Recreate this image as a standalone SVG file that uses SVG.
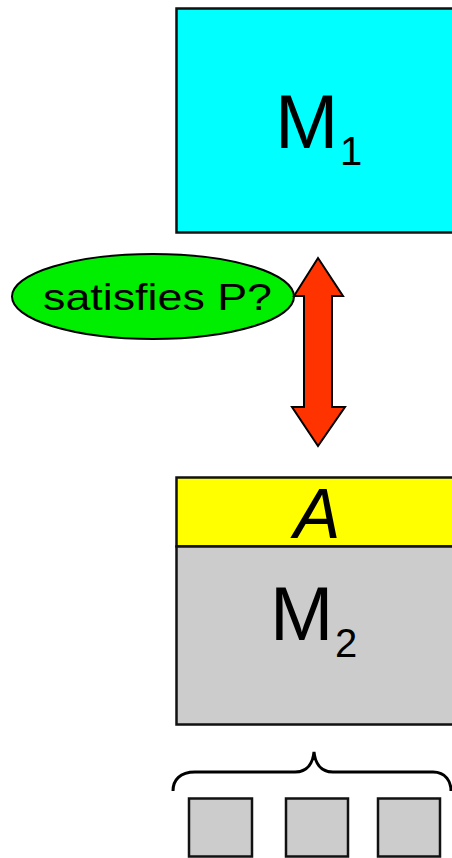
<svg xmlns="http://www.w3.org/2000/svg" width="452" height="858" viewBox="0 0 452 858">
<style>
.box{stroke:#111;stroke-width:2.5}
.lbl{font-family:"Liberation Sans","DejaVu Sans",sans-serif;fill:#000}
.sq{fill:#cccccc;stroke:#111;stroke-width:2.5}
</style>
<rect x="0" y="0" width="452" height="858" fill="#fff"/>
<g id="M1">
<rect class="box" x="176.5" y="8.5" width="290" height="224" fill="#00ffff"/>
<text class="lbl" x="275" y="148" font-size="76">M</text>
<text class="lbl" x="340" y="165" font-size="40">1</text>
</g>
<g id="satisfies">
<ellipse cx="153" cy="296.5" rx="141" ry="42.5" fill="#00ee00" stroke="#000" stroke-width="2"/>
<text class="lbl" x="43" y="310" font-size="37" textLength="229" lengthAdjust="spacingAndGlyphs">satisfies P?</text>
</g>
<g id="connectors">
<polygon points="318,258 343,296 332,296 332,407 345,407 318,446 292,407 304,407 304,296 294,296" fill="#ff3300" stroke="#000" stroke-width="2" stroke-linejoin="miter"/>
<path d="M173,791 C173,780 180,772 195,772 L295,772 C308,772 313,762 314,752 C315,762 320,772 333,772 L433,772 C446,772 451,782 451,791" fill="none" stroke="#000" stroke-width="3"/>
</g>
<g id="A">
<rect class="box" x="176.5" y="477.5" width="290" height="69" fill="#ffff00"/>
<text class="lbl" x="317" y="538" font-size="70" font-style="italic" text-anchor="middle">A</text>
</g>
<g id="M2">
<rect class="box" x="176.5" y="546.5" width="290" height="178" fill="#cccccc"/>
<text class="lbl" x="270" y="640" font-size="76">M</text>
<text class="lbl" x="335" y="657" font-size="40">2</text>
</g>
<g id="sub1"><rect class="sq" x="189" y="798.5" width="63" height="58"/></g>
<g id="sub2"><rect class="sq" x="286" y="798.5" width="62" height="58"/></g>
<g id="sub3"><rect class="sq" x="378" y="798.5" width="62" height="58"/></g>
</svg>
